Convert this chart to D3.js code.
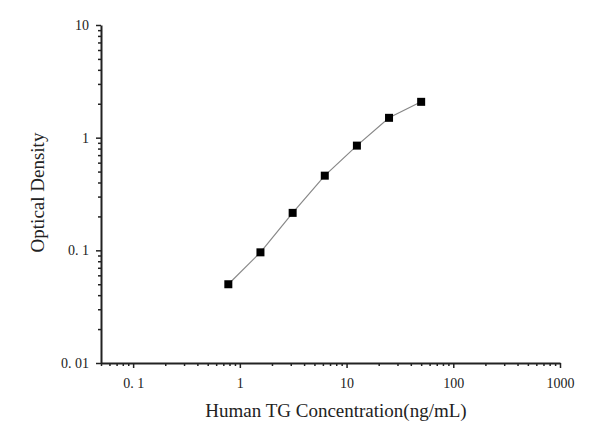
<!DOCTYPE html>
<html><head><meta charset="utf-8">
<script src="https://cdn.jsdelivr.net/npm/d3@7"></script>
<style>body{margin:0;background:#fff}svg{display:block}text{font-family:"Liberation Serif","Times New Roman",serif;fill:#222}</style>
</head><body>
<svg id="c" width="600" height="428"></svg>
<script>
const concentrations = [0.78, 1.56, 3.125, 6.25, 12.5, 25, 50];
const odValues = [0.050, 0.096, 0.215, 0.46, 0.85, 1.50, 2.08];
const xTickValues = [0.1, 1, 10, 100, 1000];
const xTickLabels = ["0. 1", "1", "10", "100", "1000"];
const yTickValues = [0.01, 0.1, 1, 10];
const yTickLabels = ["0. 01", "0. 1", "1", "10"];
const xTitle = "Human TG Concentration(ng/mL)";
const yTitle = "Optical Density";

const svg = d3.select("#c");
const L = 101, R = 560, T = 25, B = 363;
const x = d3.scaleLog().domain([0.05, 1000]).range([L, R]);
const y = d3.scaleLog().domain([0.01, 10]).range([B, T]);

function minorTicks(dom){
  const out=[];
  for(let e=-3;e<=3;e++){for(let m=1;m<10;m++){const v=m*Math.pow(10,e);if(v>=dom[0]*0.999&&v<=dom[1]*1.001)out.push(v);}}
  return out;
}
const xMinor = minorTicks(x.domain()).filter(v=>!xTickValues.some(t=>Math.abs(t-v)/t<1e-6));
const yMinor = minorTicks(y.domain()).filter(v=>!yTickValues.some(t=>Math.abs(t-v)/t<1e-6));

// x axis
const gx = svg.append("g").attr("transform",`translate(0,${B})`);
gx.call(d3.axisBottom(x).tickValues(xMinor).tickSize(3).tickFormat(""));
gx.call(g=>g.select(".domain").remove());
const gx2 = svg.append("g").attr("transform",`translate(0,${B})`);
gx2.call(d3.axisBottom(x).tickValues(xTickValues).tickSize(5).tickSizeOuter(0).tickPadding(10)
  .tickFormat((d,i)=>xTickLabels[i]));
gx2.select(".domain").attr("stroke","#222").attr("stroke-width",2);

// y axis
const gy = svg.append("g").attr("transform",`translate(${L},0)`);
gy.call(d3.axisLeft(y).tickValues(yMinor).tickSize(3).tickFormat(""));
gy.call(g=>g.select(".domain").remove());
const gy2 = svg.append("g").attr("transform",`translate(${L},0)`);
gy2.call(d3.axisLeft(y).tickValues(yTickValues).tickSize(5).tickSizeOuter(0).tickPadding(7)
  .tickFormat((d,i)=>yTickLabels[i]));
gy2.select(".domain").attr("stroke","#222").attr("stroke-width",2);

svg.selectAll(".tick line").attr("stroke","#222").attr("stroke-width",1.5);
svg.selectAll(".tick text").attr("font-size",14).attr("font-family","Liberation Serif, serif").attr("fill","#222");

// line
const data = concentrations.map((c,i)=>({c, v: odValues[i]}));
svg.append("path").datum(data)
  .attr("fill","none").attr("stroke","#888").attr("stroke-width",1.2)
  .attr("d", d3.line().x(d=>x(d.c)).y(d=>y(d.v)));
svg.selectAll("rect.pt").data(data).join("rect").attr("class","pt")
  .attr("x",d=>x(d.c)-4).attr("y",d=>y(d.v)-4).attr("width",8).attr("height",8).attr("fill","#000");

// titles
svg.append("text").attr("x",336).attr("y",417).attr("text-anchor","middle")
  .attr("font-size",19).text(xTitle);
svg.append("text").attr("transform",`translate(44,${(133+252)/2}) rotate(-90)`).attr("text-anchor","middle")
  .attr("font-size",19).text(yTitle);
</script>
</body></html>
